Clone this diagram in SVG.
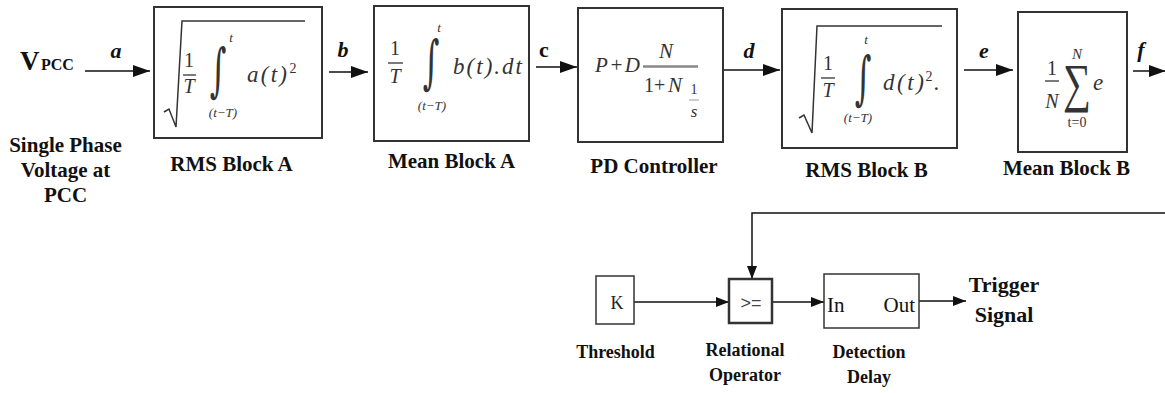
<svg xmlns="http://www.w3.org/2000/svg" width="1165" height="393" viewBox="0 0 1165 393">
<defs>
<style>
.box{fill:#fff;stroke:#333;stroke-width:2}
.sbox{fill:#fff;stroke:#333;stroke-width:1.5}
.wire{fill:none;stroke:#111;stroke-width:1.5}
.rad{fill:none;stroke:#333;stroke-width:1.5}
.bar{stroke:#333;stroke-width:1.3}
.serif{font-family:"Liberation Serif","Times New Roman",serif}
.lbl{font-family:"Liberation Serif","Times New Roman",serif;font-weight:bold;font-size:21px;fill:#111;text-anchor:middle}
.slbl{font-family:"Liberation Serif","Times New Roman",serif;font-weight:bold;font-size:18px;fill:#111;text-anchor:middle}
.sig{font-family:"Liberation Serif","Times New Roman",serif;font-weight:bold;font-style:italic;font-size:22px;fill:#111;text-anchor:middle}
.m{font-family:"Liberation Serif","Times New Roman",serif;font-style:italic;font-size:23px;fill:#333}
.mu{font-family:"Liberation Serif","Times New Roman",serif;font-size:20px;fill:#333;text-anchor:middle}
.ms{font-family:"Liberation Serif","Times New Roman",serif;font-style:italic;font-size:13px;fill:#333;text-anchor:middle}
.int{font-family:"DejaVu Serif",serif;font-size:40px;fill:#333;text-anchor:middle}
.reg{font-family:"Liberation Serif","Times New Roman",serif;font-size:21px;fill:#111}
</style>
<marker id="ab" markerUnits="userSpaceOnUse" markerWidth="17" markerHeight="12" refX="17" refY="6" orient="auto"><path d="M0,0 L17,6 L0,12 z" fill="#111"/></marker>
<marker id="as" markerUnits="userSpaceOnUse" markerWidth="13" markerHeight="10" refX="13" refY="5" orient="auto"><path d="M0,0 L13,5 L0,10 z" fill="#111"/></marker>
</defs>
<rect width="1165" height="393" fill="#fff"/>

<g id="connectors">
<line class="wire" x1="85" y1="71" x2="150" y2="71" marker-end="url(#ab)"/>
<line class="wire" x1="329" y1="72" x2="368" y2="72" marker-end="url(#ab)"/>
<line class="wire" x1="536" y1="67" x2="577" y2="67" marker-end="url(#ab)"/>
<line class="wire" x1="723" y1="70" x2="780" y2="70" marker-end="url(#ab)"/>
<line class="wire" x1="964" y1="70" x2="1013" y2="70" marker-end="url(#ab)"/>
<line class="wire" x1="1133" y1="71" x2="1166" y2="71" marker-end="url(#ab)"/>
<line class="wire" x1="634" y1="302" x2="729" y2="302" marker-end="url(#as)"/>
<line class="wire" x1="772" y1="302" x2="824" y2="302" marker-end="url(#as)"/>
<line class="wire" x1="919" y1="301" x2="966" y2="301" marker-end="url(#as)"/>
<path class="wire" d="M1165,213 H752 V279" marker-end="url(#as)"/>
<text class="sig" x="116" y="58">a</text>
<text class="sig" x="343" y="57">b</text>
<text class="sig" x="544" y="57" style="font-style:normal">c</text>
<text class="sig" x="749" y="58">d</text>
<text class="sig" x="984" y="58">e</text>
<text class="sig" x="1141" y="57">f</text>
</g>

<g id="vpcc">
<text class="serif" x="20" y="70" style="font-weight:bold;font-size:27px" fill="#111">V</text>
<text class="serif" x="41" y="70" style="font-weight:bold;font-size:16px" fill="#111">PCC</text>
<text class="lbl" x="65.5" y="152">Single Phase</text>
<text class="lbl" x="65.5" y="177">Voltage at</text>
<text class="lbl" x="65.5" y="202">PCC</text>
</g>

<g id="rms-a">
<rect class="box" x="154" y="7" width="168" height="131"/>
<path class="rad" d="M164,112 L169,109 L176,127 L182,21 H305"/>
<text class="mu" x="189" y="67">1</text>
<line class="bar" x1="183" y1="75" x2="196" y2="75"/>
<text class="mu" x="189" y="93" style="font-style:italic">T</text>
<text class="int" x="0" y="0" transform="translate(218,90) scale(0.8,1.45)">∫</text>
<text class="ms" x="231" y="42">t</text>
<text class="ms" x="223" y="117">(t−T)</text>
<text class="m" x="247" y="82" textLength="40" lengthAdjust="spacing">a(t)</text>
<text class="mu" x="293" y="73" style="font-size:14px">2</text>
<text class="lbl" x="231.5" y="171">RMS Block A</text>
</g>

<g id="mean-a">
<rect class="box" x="374" y="6" width="155" height="135"/>
<text class="mu" x="395" y="55">1</text>
<line class="bar" x1="388" y1="63" x2="403" y2="63"/>
<text class="mu" x="395" y="83" style="font-style:italic">T</text>
<text class="int" x="0" y="0" transform="translate(431,82) scale(0.8,1.45)">∫</text>
<text class="ms" x="439" y="32">t</text>
<text class="ms" x="432" y="110">(t−T)</text>
<text class="m" x="453" y="74" textLength="69" lengthAdjust="spacing">b(t).dt</text>
<text class="lbl" x="451.5" y="168">Mean Block A</text>
</g>

<g id="pd">
<rect class="box" x="578" y="8" width="145" height="134"/>
<text class="m" x="595" y="72" style="font-size:21px" textLength="45" lengthAdjust="spacing">P+D</text>
<line x1="643" y1="66.5" x2="698" y2="66.5" stroke="#888" stroke-width="2.5"/>
<text class="m" x="666" y="58" style="font-size:21px;text-anchor:middle">N</text>
<text class="mu" x="644" y="92" style="text-anchor:start">1+</text>
<text class="m" x="668" y="92" style="font-size:21px">N</text>
<text class="mu" x="694" y="94" style="font-size:14px">1</text>
<line x1="689" y1="100" x2="699" y2="100" stroke="#999" stroke-width="1"/>
<text class="m" x="694" y="117" style="font-size:17px;text-anchor:middle">s</text>
<text class="lbl" x="654" y="173">PD Controller</text>
</g>

<g id="rms-b">
<rect class="box" x="782" y="9" width="175" height="139"/>
<path class="rad" d="M799,118 L804,115 L812,133 L817,26 H942"/>
<text class="mu" x="828" y="70">1</text>
<line class="bar" x1="821" y1="78" x2="835" y2="78"/>
<text class="mu" x="828" y="97" style="font-style:italic">T</text>
<text class="int" x="0" y="0" transform="translate(863,98) scale(0.8,1.45)">∫</text>
<text class="ms" x="866" y="44">t</text>
<text class="ms" x="858" y="122">(t−T)</text>
<text class="m" x="883" y="90" textLength="41" lengthAdjust="spacing">d(t)</text>
<text class="mu" x="929" y="81" style="font-size:14px">2</text>
<text class="m" x="934" y="90">.</text>
<text class="lbl" x="866.5" y="177">RMS Block B</text>
</g>

<g id="mean-b">
<rect class="box" x="1018" y="12" width="109" height="140"/>
<text class="mu" x="1052" y="75">1</text>
<line class="bar" x1="1045" y1="81" x2="1059" y2="81"/>
<text class="mu" x="1052" y="108" style="font-style:italic">N</text>
<text class="serif" x="0" y="0" transform="translate(1077,101) scale(0.7,0.95)" style="font-size:56px" fill="#333" text-anchor="middle">∑</text>
<text class="ms" x="1077" y="59" style="font-size:15px">N</text>
<text class="ms" x="1077" y="127" style="font-size:14px;font-style:normal">t=0</text>
<text class="m" x="1093" y="90">e</text>
<text class="lbl" x="1066.5" y="175">Mean Block B</text>
</g>

<g id="threshold">
<rect class="sbox" x="596" y="276" width="38" height="48"/>
<text class="serif" x="617" y="309" style="font-size:18px" fill="#222" text-anchor="middle">K</text>
<text class="slbl" x="615.5" y="358">Threshold</text>
</g>

<g id="relational">
<rect x="729" y="279" width="43" height="44" fill="#fff" stroke="#333" stroke-width="2.5"/>
<text x="751" y="309" font-family="Liberation Sans,Arial,sans-serif" font-size="18" fill="#444" text-anchor="middle">&gt;=</text>
<text class="slbl" x="745" y="356">Relational</text>
<text class="slbl" x="745" y="381">Operator</text>
</g>

<g id="delay">
<rect class="sbox" x="824" y="274" width="95" height="54"/>
<text class="reg" x="827" y="312">In</text>
<text class="reg" x="915" y="312" style="text-anchor:end">Out</text>
<text class="slbl" x="869" y="358">Detection</text>
<text class="slbl" x="869" y="383">Delay</text>
</g>

<g id="trigger">
<text class="lbl" x="1004" y="292" style="font-size:22px">Trigger</text>
<text class="lbl" x="1004" y="322" style="font-size:22px">Signal</text>
</g>
</svg>
